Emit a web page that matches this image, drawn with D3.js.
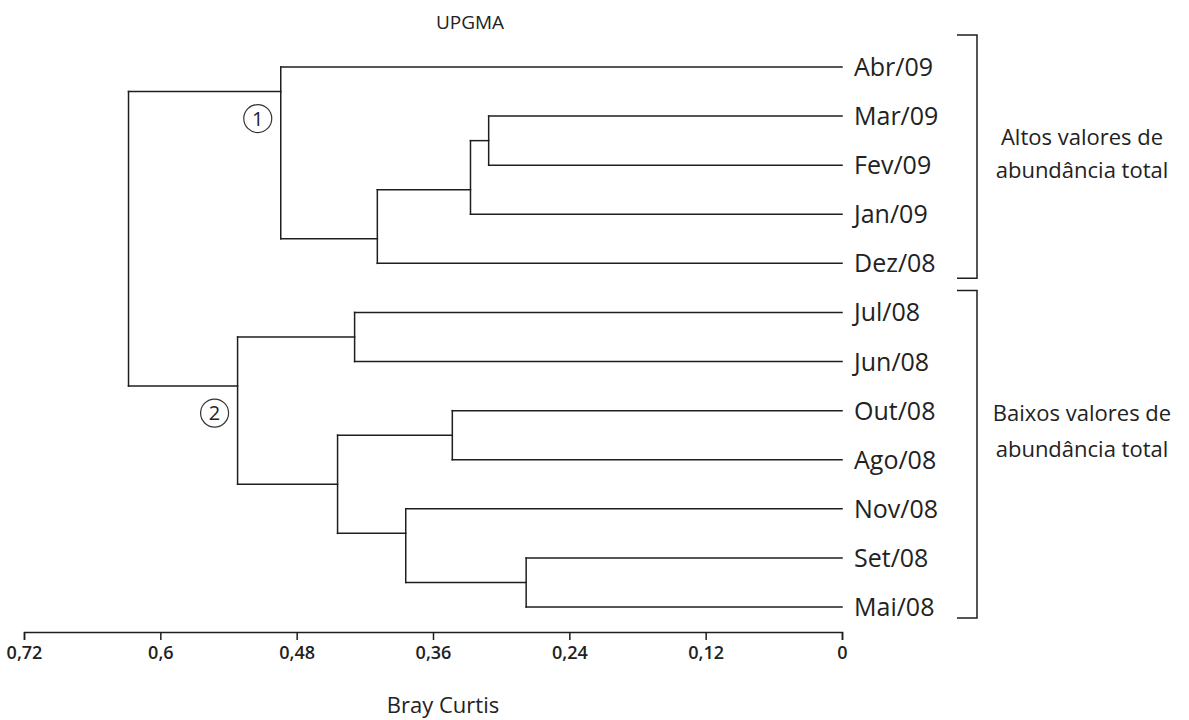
<!DOCTYPE html>
<html>
<head>
<meta charset="utf-8">
<script src="https://cdn.jsdelivr.net/npm/d3@7"></script>
<style>
  html, body { margin: 0; padding: 0; background: #fff; }
  svg { display: block; }
  text { font-family: "Open Sans", "Noto Sans", sans-serif; fill: #222; }
</style>
</head>
<body>
<svg id="chart" width="1189" height="720"></svg>
<script>
// Leaf order as drawn top to bottom
const leaves = ["Abr/09", "Mar/09", "Fev/09", "Jan/09", "Dez/08",
                "Jul/08", "Jun/08", "Out/08", "Ago/08", "Nov/08", "Set/08", "Mai/08"];

// UPGMA merge steps: [id, left child, right child, Bray-Curtis distance]
const merges = [
  ["c1",  "Set/08", "Mai/08", 0.278],
  ["c2",  "Mar/09", "Fev/09", 0.311],
  ["c3",  "c2",     "Jan/09", 0.327],
  ["c4",  "Out/08", "Ago/08", 0.343],
  ["c5",  "Nov/08", "c1",     0.384],
  ["c6",  "c3",     "Dez/08", 0.409],
  ["c7",  "Jul/08", "Jun/08", 0.429],
  ["c8",  "c4",     "c5",     0.444],
  ["c9",  "Abr/09", "c6",     0.494],
  ["c10", "c7",     "c8",     0.532],
  ["root","c9",     "c10",    0.628]
];

const tickValues = [0.72, 0.6, 0.48, 0.36, 0.24, 0.12, 0];

// Groups of samples annotated with brackets
const groupNames  = [["Altos valores de", "abundância total"], ["Baixos valores de", "abundância total"]];
const groupFirst  = ["Abr/09", "Jul/08"];
const groupLast   = ["Dez/08", "Mai/08"];

// Numbered clusters
const clusterMarks = [["c9", "1"], ["c10", "2"]];

const svg = d3.select("#chart");
const ink = "#1e1e1e";

const x = d3.scaleLinear().domain([0.72, 0]).range([24, 842]);
const y = d3.scalePoint().domain(leaves).range([67, 607]);

// Build nodes
const nodes = new Map();
leaves.forEach((name, i) => nodes.set(name, { id: name, h: 0, leaf: true, first: i, last: i }));
merges.forEach(([id, a, b, h]) => {
  const L = nodes.get(a), R = nodes.get(b);
  nodes.set(id, { id, h, leaf: false, children: [L, R], first: L.first, last: R.last, split: L.last });
});

// Vertical position: branch joins between the two leaves at the split
function nodeY(n) {
  if (n.leaf) return y(n.id);
  return (y(leaves[n.split]) + y(leaves[n.split + 1])) / 2;
}

const tree = svg.append("g")
  .attr("fill", "none")
  .attr("stroke", ink)
  .attr("stroke-width", 1.5)
  .attr("stroke-linecap", "square");

merges.forEach(([id]) => {
  const n = nodes.get(id);
  const nx = x(n.h);
  const ys = n.children.map(nodeY);
  // vertical connector
  tree.append("line").attr("x1", nx).attr("x2", nx).attr("y1", ys[0]).attr("y2", ys[1]);
  // horizontal branches to children
  n.children.forEach((c, i) => {
    tree.append("line")
      .attr("x1", nx).attr("x2", x(c.h))
      .attr("y1", ys[i]).attr("y2", ys[i]);
  });
});

// Leaf labels
svg.append("g").selectAll("text").data(leaves).join("text")
  .attr("x", x(0) + 12)
  .attr("y", d => y(d))
  .attr("dy", "0.36em")
  .attr("font-size", 25)
  .text(d => d);

// Numbered cluster circles
clusterMarks.forEach(([id, label]) => {
  const n = nodes.get(id);
  const cx = x(n.h) - 23, cy = nodeY(n) + 27;
  svg.append("circle").attr("cx", cx).attr("cy", cy).attr("r", 14)
    .attr("fill", "none").attr("stroke", "#333").attr("stroke-width", 1.2);
  svg.append("text").attr("x", cx).attr("y", cy).attr("dy", "0.36em")
    .attr("text-anchor", "middle").attr("font-size", 20).text(label);
});

// Group brackets and captions
const pads = [[32, 15], [22, 11]];
const captionTop = [137, 413], captionGap = [33, 36];
groupNames.forEach((lines, i) => {
  const y0 = y(groupFirst[i]) - pads[i][0];
  const y1 = y(groupLast[i]) + pads[i][1];
  const bx = 977;
  svg.append("path")
    .attr("d", `M${bx - 20},${y0}H${bx}V${y1}H${bx - 20}`)
    .attr("fill", "none").attr("stroke", ink).attr("stroke-width", 1.5);
  lines.forEach((t, j) => {
    svg.append("text")
      .attr("x", 1082)
      .attr("y", captionTop[i] + j * captionGap[i])
      .attr("dy", "0.36em")
      .attr("text-anchor", "middle")
      .attr("font-size", 22)
      .text(t);
  });
});

// Distance axis
const axis = d3.axisBottom(x)
  .tickValues(tickValues)
  .tickSize(8)
  .tickSizeOuter(8)
  .tickPadding(6)
  .tickFormat(d => String(d).replace(".", ","));

const ax = svg.append("g").attr("transform", "translate(0,632)").call(axis);
ax.select(".domain").attr("stroke", ink).attr("stroke-width", 1.5);
ax.selectAll(".tick line").attr("stroke", ink).attr("stroke-width", 1.5);
ax.selectAll(".tick text")
  .attr("font-family", "'Open Sans', sans-serif")
  .attr("font-size", 18)
  .attr("font-weight", 600)
  .attr("fill", "#333");

// Axis title and chart title
svg.append("text").attr("x", 443).attr("y", 705).attr("dy", "0.36em")
  .attr("text-anchor", "middle").attr("font-size", 22).text("Bray Curtis");

svg.append("text").attr("x", 470).attr("y", 22).attr("dy", "0.36em")
  .attr("text-anchor", "middle").attr("font-size", 19)
  .text("UPGMA");
</script>
</body>
</html>
